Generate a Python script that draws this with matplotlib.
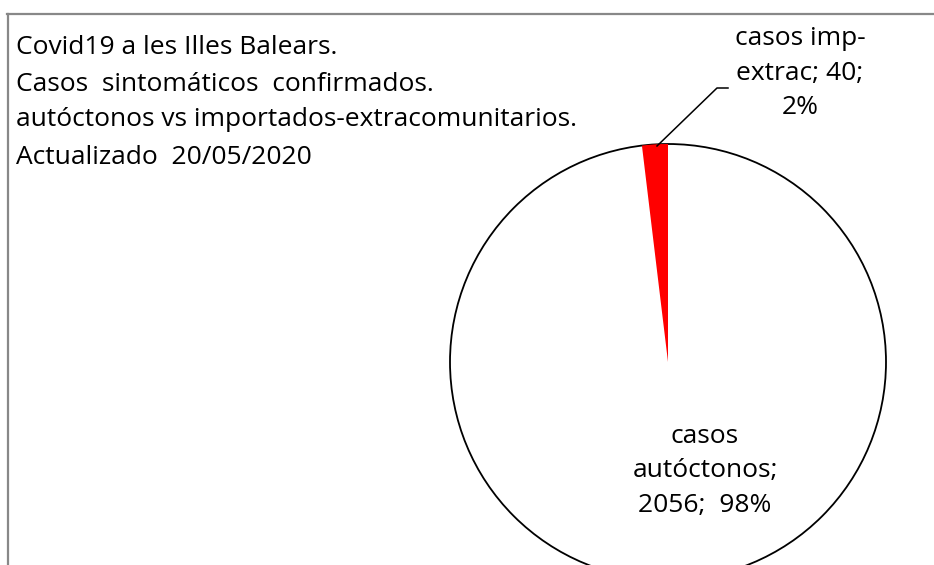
import matplotlib
matplotlib.use("Agg")
import matplotlib.pyplot as plt
from matplotlib.lines import Line2D
from matplotlib.patches import Circle

plt.rcParams['font.family'] = ['Open Sans', 'DejaVu Sans']

# Data
categories = ["casos autóctonos", "casos imp-extrac"]
values = [2056, 40]
colors = ["#FFFFFF", "#FF0000"]
title_lines = [
    "Covid19 a les Illes Balears.",
    "Casos  sintomáticos  confirmados.",
    "autóctonos vs importados-extracomunitarios.",
    "Actualizado  20/05/2020",
]

W, H = 934, 565
fig = plt.figure(figsize=(W / 100, H / 100), dpi=100)

def fx(px):
    return px / W

def fy(py):
    return 1 - py / H

# Pie axes: center (668, 362), radius 218 px
cx, cy, r = 668, 362, 218
ax = fig.add_axes([fx(cx - r), fy(cy + r), 2 * r / W, 2 * r / H])
outline = Circle((0, 0), 1, facecolor='white', edgecolor='black', lw=1.3, zorder=0)
ax.add_patch(outline)
outline.set_clip_on(False)
wedges, _ = ax.pie(values, colors=colors, startangle=90, counterclock=False,
                   radius=1, wedgeprops=dict(linewidth=0))
ax.set_xlim(-1, 1)
ax.set_ylim(-1, 1)
ax.set_aspect('auto')
ax.axis('off')
for w in wedges:
    w.set_zorder(1)
    w.set_clip_on(False)
wedges[0].set_alpha(0)

total = sum(values)
pcts = [round(v / total * 100) for v in values]

lab_auto = f"casos\nautóctonos;\n{values[0]};  {pcts[0]}%"
lab_imp = f"casos imp-\nextrac; {values[1]};\n{pcts[1]}%"

fs = 19
fig.text(fx(705), fy(471), lab_auto, ha='center', va='center', fontsize=fs,
         linespacing=1.48, color='black')
fig.text(fx(800), fy(73), lab_imp, ha='center', va='center', fontsize=fs,
         linespacing=1.48, color='black')

# leader line
fig.add_artist(Line2D([fx(657), fx(717), fx(728)], [fy(146), fy(88), fy(88)],
                      color='black', lw=1.1, transform=fig.transFigure))

# title lines
ys = [47, 84, 120, 157]
for t, y in zip(title_lines, ys):
    fig.text(fx(16), fy(y), t, ha='left', va='center', fontsize=fs, color='black')

# frame
fig.add_artist(Line2D([fx(7.5), fx(7.5)], [fy(14), fy(H + 5)], color='#888888', lw=1.6,
                      transform=fig.transFigure))
fig.add_artist(Line2D([fx(6.7), fx(W + 5)], [fy(14), fy(14)], color='#888888', lw=1.6,
                      transform=fig.transFigure))

fig.savefig("out.png", dpi=100)
